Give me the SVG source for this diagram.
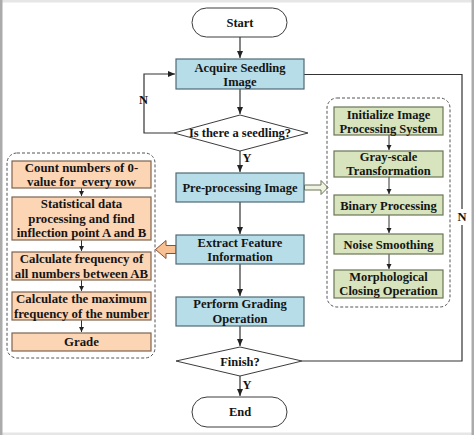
<svg xmlns="http://www.w3.org/2000/svg" width="474" height="435" viewBox="0 0 474 435">
<defs>
<style>
text{font-family:"Liberation Serif","Times New Roman",serif;font-weight:bold;font-size:12.5px;fill:#141414;text-anchor:middle;dominant-baseline:central}
.lt{font-size:12.8px}
.term{fill:#fff;stroke:#3c3c3c;stroke-width:1}
.blue{fill:#b7dde8;stroke:#4f6a74;stroke-width:1.2}
.green{fill:#d7e4bd;stroke:#6b7556;stroke-width:1.2}
.orange{fill:#fcd5b5;stroke:#7d6450;stroke-width:1.2}
.dia{fill:#fff;stroke:#3c3c3c;stroke-width:1}
.grp{fill:none;stroke:#555;stroke-width:1;stroke-dasharray:3 2}
.ln{fill:none;stroke:#333;stroke-width:1.2}
.sm{fill:none;stroke:#333;stroke-width:1}
</style>
<marker id="ah" markerWidth="8" markerHeight="8" refX="7" refY="4" orient="auto" markerUnits="userSpaceOnUse">
<path d="M0,1 L7,4 L0,7 Z" fill="#222"/>
</marker>
<marker id="ahs" markerWidth="6" markerHeight="6" refX="5" refY="3" orient="auto" markerUnits="userSpaceOnUse">
<path d="M0,0.5 L5,3 L0,5.5 Z" fill="#222"/>
</marker>
</defs>
<rect x="0" y="0" width="474" height="435" fill="#fff"/>
<rect x="0" y="0" width="474" height="2.5" fill="#e6e6e6"/>
<rect x="0" y="432.5" width="474" height="2.5" fill="#e6e6e6"/>
<rect x="0" y="0" width="2.5" height="435" fill="#ababab"/>
<rect x="471.5" y="0" width="2.5" height="435" fill="#ababab"/>

<g id="connectors">
<path class="ln" d="M240,37 V58" marker-end="url(#ah)"/>
<path class="ln" d="M240,89 V114" marker-end="url(#ah)"/>
<path class="ln" d="M174,133 H144 V74 H175" marker-end="url(#ah)"/>
<path class="ln" d="M240,151 V172" marker-end="url(#ah)"/>
<path class="ln" d="M240,202 V234" marker-end="url(#ah)"/>
<path class="ln" d="M240,264 V296" marker-end="url(#ah)"/>
<path class="ln" d="M240,326 V346" marker-end="url(#ah)"/>
<path class="ln" d="M240,376 V396" marker-end="url(#ah)"/>
<path class="ln" d="M302,361 H462 V74.5 H304"/>
<path class="sm" d="M389,135 V150" marker-end="url(#ahs)"/>
<path class="sm" d="M389,177 V194" marker-end="url(#ahs)"/>
<path class="sm" d="M389,215 V233" marker-end="url(#ahs)"/>
<path class="sm" d="M389,254 V269" marker-end="url(#ahs)"/>
<path class="sm" d="M81.5,188 V196" marker-end="url(#ahs)"/>
<path class="sm" d="M81.5,240 V251" marker-end="url(#ahs)"/>
<path class="sm" d="M81.5,280 V291" marker-end="url(#ahs)"/>
<path class="sm" d="M81.5,320 V332" marker-end="url(#ahs)"/>
<path d="M304.5,185 H321 V180.5 L328,187.5 L321,194.5 V190 H304.5 Z" fill="#eef3e2" stroke="#6b7556" stroke-width="1"/>
<path d="M176,245.5 H166 V240.5 L155.5,249.5 L166,258.5 V253.5 H176 Z" fill="#f8c193" stroke="#8a5030" stroke-width="1"/>
<text x="143.5" y="100">N</text>
<text x="247" y="158">Y</text>
<text x="247" y="385">Y</text>
<rect x="456" y="209" width="12" height="16" fill="#fff"/>
<text x="462" y="217">N</text>
</g>

<g id="start"><rect class="term" x="192" y="8" width="95" height="29" rx="14.5"/><text x="240" y="23">Start</text></g>
<g id="acquire"><rect class="blue" x="176" y="59" width="128" height="30"/><text x="240" y="67.5">Acquire Seedling</text><text x="240" y="81.5">Image</text></g>
<g id="seedling"><path class="dia" d="M240,115 L308,133 L240,151 L174,133 Z"/><text x="240" y="133">Is there a seedling?</text></g>
<g id="preprocess"><rect class="blue" x="176" y="173" width="128" height="29"/><text x="240" y="188">Pre-processing Image</text></g>
<g id="extract"><rect class="blue" x="176" y="235" width="128" height="29"/><text x="240" y="242.5">Extract Feature</text><text x="240" y="257">Information</text></g>
<g id="grading"><rect class="blue" x="176" y="297" width="128" height="29"/><text x="240" y="304">Perform Grading</text><text x="240" y="318.5">Operation</text></g>
<g id="finish"><path class="dia" d="M240,347 L302,361 L240,376 L176,361 Z"/><text x="240" y="362">Finish?</text></g>
<g id="end"><rect class="term" x="192" y="397" width="95" height="30" rx="15"/><text x="240" y="412">End</text></g>

<g id="preprocess-group">
<rect class="grp" x="327" y="98" width="123" height="209" rx="10"/>
<g id="init"><rect class="green" x="334" y="107" width="109" height="28"/><text x="388.5" y="114.5">Initialize Image</text><text x="388.5" y="128.5">Processing System</text></g>
<g id="gray"><rect class="green" x="334" y="151" width="109" height="26"/><text x="388.5" y="157">Gray-scale</text><text x="388.5" y="171">Transformation</text></g>
<g id="binary"><rect class="green" x="334" y="195" width="109" height="20"/><text x="388.5" y="205.5">Binary Processing</text></g>
<g id="noise"><rect class="green" x="334" y="234" width="109" height="20"/><text x="388.5" y="244.5">Noise Smoothing</text></g>
<g id="morph"><rect class="green" x="334" y="270" width="109" height="28"/><text x="388.5" y="277">Morphological</text><text x="388.5" y="291">Closing Operation</text></g>
</g>

<g id="feature-group">
<rect class="grp" x="7" y="153" width="148" height="205" rx="10"/>
<g id="count"><rect class="orange" x="12" y="161" width="139" height="27"/><text class="lt" x="81.5" y="167.5">Count numbers of 0-</text><text class="lt" x="81.5" y="181.5" xml:space="preserve" style="white-space:pre">value for  every row</text></g>
<g id="stat"><rect class="orange" x="12" y="197" width="139" height="43"/><text class="lt" x="81.5" y="204">Statistical data</text><text class="lt" x="81.5" y="218.5">processing and find</text><text class="lt" x="81.5" y="233">inflection point A and B</text></g>
<g id="freq"><rect class="orange" x="12" y="252" width="139" height="28"/><text class="lt" x="81.5" y="259">Calculate frequency of</text><text class="lt" x="81.5" y="273.5">all numbers between AB</text></g>
<g id="max"><rect class="orange" x="12" y="292" width="139" height="28"/><text class="lt" x="81.5" y="299">Calculate the maximum</text><text class="lt" x="81.5" y="313.5">frequency of the number</text></g>
<g id="grade"><rect class="orange" x="12" y="333" width="139" height="18"/><text class="lt" x="81.5" y="342">Grade</text></g>
</g>
</svg>
